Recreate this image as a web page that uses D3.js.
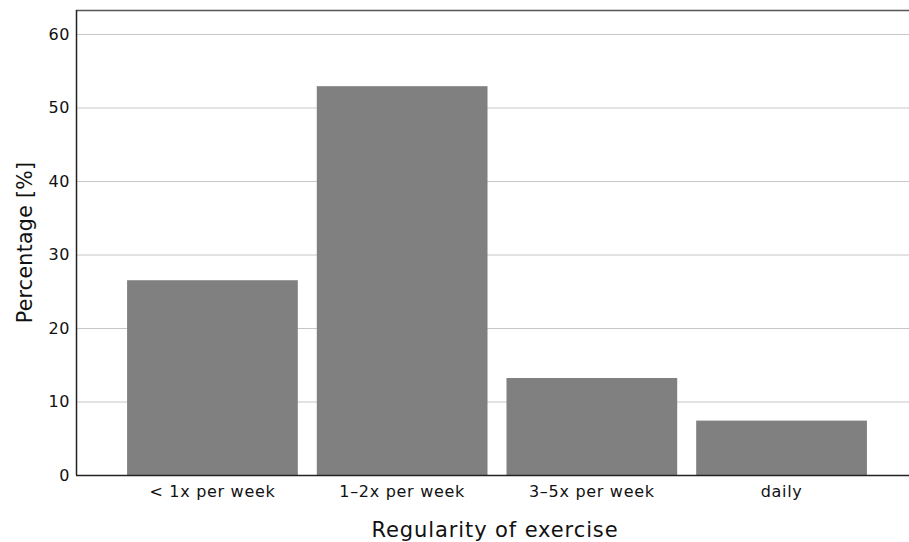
<!DOCTYPE html>
<html>
<head>
<meta charset="utf-8">
<script src="https://cdn.jsdelivr.net/npm/d3@7"></script>
<style>
  body { margin: 0; background: #fff; }
  text { font-family: "DejaVu Sans", sans-serif; fill: #111; }
</style>
</head>
<body>
<div id="chart"></div>
<script>
const categories = ["< 1x per week", "1\u20132x per week", "3\u20135x per week", "daily"];
const percentages = [26.5, 52.9, 13.2, 7.4];
const yTicks = [0, 10, 20, 30, 40, 50, 60];

const width = 909, height = 542;
const plot = { left: 76, right: 909, top: 10, bottom: 475 };

const svg = d3.select("#chart")
  .append("svg")
  .attr("width", width)
  .attr("height", height);

const x = d3.scaleBand()
  .domain(categories)
  .range([117.6, 876.4])
  .paddingInner(0.1)
  .paddingOuter(0.05);

const y = d3.scaleLinear()
  .domain([0, 60])
  .range([plot.bottom, 34]);

// gridlines
svg.append("g")
  .selectAll("line")
  .data(yTicks.filter(d => d > 0))
  .enter()
  .append("line")
  .attr("x1", plot.left)
  .attr("x2", plot.right)
  .attr("y1", d => y(d) + 0.5)
  .attr("y2", d => y(d) + 0.5)
  .attr("stroke", "#c6c6c6")
  .attr("stroke-width", 1);

// bars
svg.append("g")
  .selectAll("rect")
  .data(categories)
  .enter()
  .append("rect")
  .attr("x", d => x(d))
  .attr("y", (d, i) => y(percentages[i]))
  .attr("width", x.bandwidth())
  .attr("height", (d, i) => y(0) - y(percentages[i]))
  .attr("fill", "#808080");

// top frame line
svg.append("line")
  .attr("x1", plot.left)
  .attr("x2", plot.right)
  .attr("y1", plot.top + 0.5)
  .attr("y2", plot.top + 0.5)
  .attr("stroke", "#555")
  .attr("stroke-width", 1.5);

// y axis
const yAxis = svg.append("g")
  .attr("transform", `translate(${plot.left},0)`)
  .call(d3.axisLeft(y).tickValues(yTicks).tickSize(0).tickPadding(6));
yAxis.select(".domain").remove();
yAxis.selectAll("text")
  .style("font-size", "16px")
  .style("letter-spacing", "0.6px");

svg.append("line")
  .attr("x1", plot.left + 0.5)
  .attr("x2", plot.left + 0.5)
  .attr("y1", plot.top)
  .attr("y2", plot.bottom)
  .attr("stroke", "#222")
  .attr("stroke-width", 1.5);

// x axis
const xAxis = svg.append("g")
  .attr("transform", `translate(0,${plot.bottom})`)
  .call(d3.axisBottom(x).tickSize(0).tickPadding(11));
xAxis.select(".domain").remove();
xAxis.selectAll("text")
  .style("font-size", "16px")
  .style("letter-spacing", "0.7px");

svg.append("line")
  .attr("x1", plot.left)
  .attr("x2", plot.right)
  .attr("y1", plot.bottom + 0.5)
  .attr("y2", plot.bottom + 0.5)
  .attr("stroke", "#222")
  .attr("stroke-width", 1.5);

// axis titles
svg.append("text")
  .attr("x", 495)
  .attr("y", 537)
  .attr("text-anchor", "middle")
  .style("font-size", "21px")
  .style("letter-spacing", "0.9px")
  .text("Regularity of exercise");

svg.append("text")
  .attr("transform", `translate(32,${(plot.top + plot.bottom) / 2}) rotate(-90)`)
  .attr("text-anchor", "middle")
  .style("font-size", "20.5px")
  .style("letter-spacing", "0.3px")
  .text("Percentage [%]");
</script>
</body>
</html>
